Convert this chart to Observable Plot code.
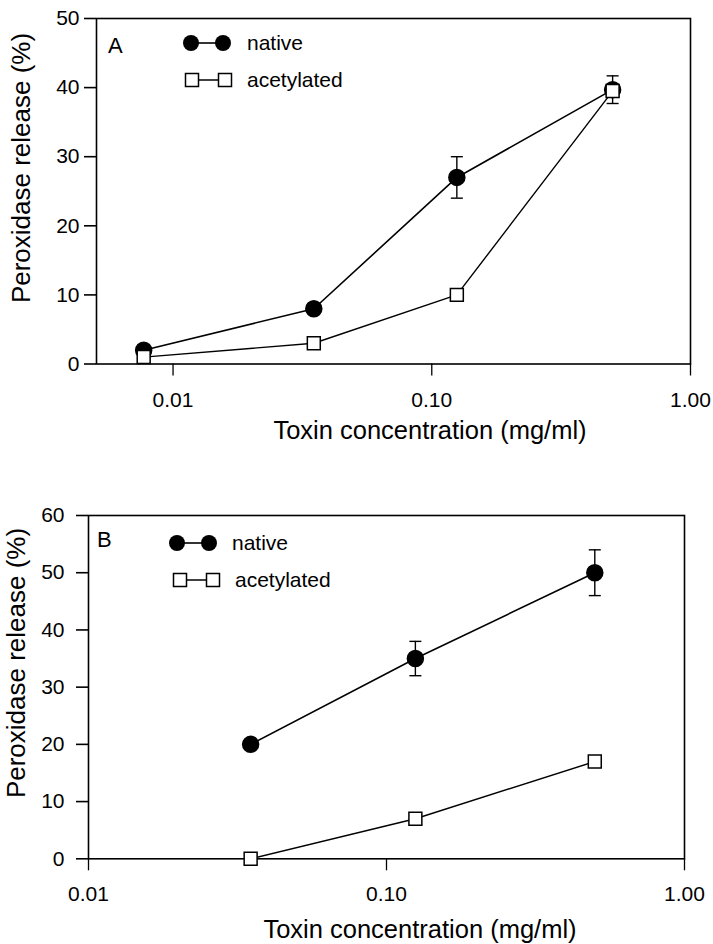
<!DOCTYPE html>
<html>
<head>
<meta charset="utf-8">
<script src="https://cdn.jsdelivr.net/npm/d3@7"></script>
<script src="https://cdn.jsdelivr.net/npm/@observablehq/plot@0.6"></script>
<style>
  html, body { margin: 0; padding: 0; background: #fff; }
  #wrap { width: 713px; height: 944px; }
  svg { display: block; }
</style>
</head>
<body>
<div id="wrap"></div>
<script>
// ---- data ----
const seriesNames = ["native", "acetylated"];

const concA = [0.0077, 0.035, 0.125, 0.5];
const nativeA = [2, 8, 27, 39.7];
const nativeAErr = [0, 0, 3, 2];
const acetA = [1, 3, 10, 39.5];

const concB = [0.035, 0.125, 0.5];
const nativeB = [20, 35, 50];
const nativeBErr = [0, 3, 4];
const acetB = [0, 7, 17];

const xTicks = [0.01, 0.1, 1];
const xTickLabels = ["0.01", "0.10", "1.00"];
const yTicksA = [0, 10, 20, 30, 40, 50];
const yTicksB = [0, 10, 20, 30, 40, 50, 60];

const xTitle = "Toxin concentration (mg/ml)";
const yTitle = "Peroxidase release (%)";

const FONT = "'Liberation Sans', Arial, Helvetica, sans-serif";

// error-bar cap symbol (horizontal segment)
const capSymbol = {
  draw(ctx, size) {
    const w = Math.sqrt(size / Math.PI);
    ctx.moveTo(-w, 0);
    ctx.lineTo(w, 0);
  }
};

function rows(xs, ys, errs) {
  return xs.map((x, i) => ({x, y: ys[i], err: errs ? errs[i] : 0}));
}

function panel(cfg) {
  const nat = rows(cfg.conc, cfg.native, cfg.nativeErr);
  const ace = rows(cfg.conc, cfg.acet);
  const withErr = nat.filter(d => d.err > 0);
  const svg = Plot.plot({
    width: 713,
    height: cfg.height,
    marginLeft: cfg.ml,
    marginRight: cfg.mr,
    marginTop: cfg.mt,
    marginBottom: cfg.mb,
    style: {fontFamily: FONT, fontSize: "21px", color: "black", background: "white", overflow: "visible"},
    x: {type: "log", domain: cfg.xDomain},
    y: {domain: cfg.yDomain},
    marks: [
      Plot.frame({stroke: "black", strokeWidth: 1.6}),
      Plot.axisX({ticks: xTicks, tickFormat: (d) => xTickLabels[xTicks.indexOf(d)], tickSize: 12, tickPadding: cfg.xPad, strokeWidth: 1.3, label: null}),
      Plot.axisY({ticks: cfg.yTicks, tickSize: 12, tickPadding: cfg.yPad, strokeWidth: 1.6, label: null}),
      Plot.ruleX(withErr, {x: "x", y1: d => d.y - d.err, y2: d => d.y + d.err, stroke: "black", strokeWidth: 1.4}),
      Plot.dot(withErr, {x: "x", y: d => d.y + d.err, symbol: capSymbol, r: 6, stroke: "black", strokeWidth: 1.4, fill: "none"}),
      Plot.dot(withErr, {x: "x", y: d => d.y - d.err, symbol: capSymbol, r: 6, stroke: "black", strokeWidth: 1.4, fill: "none"}),
      Plot.line(nat, {x: "x", y: "y", stroke: "black", strokeWidth: 1.6}),
      Plot.line(ace, {x: "x", y: "y", stroke: "black", strokeWidth: 1.4}),
      Plot.dot(nat, {x: "x", y: "y", r: 8, fill: "black", stroke: "black"}),
      Plot.dot(ace, {x: "x", y: "y", symbol: "square", r: 7.3, fill: "white", stroke: "black", strokeWidth: 1.5})
    ]
  });
  const s = d3.select(svg);
  // panel letter
  s.append("text").attr("x", cfg.letter[0]).attr("y", cfg.letter[1]).attr("text-anchor", "start")
    .attr("font-size", 22).attr("font-family", FONT).text(cfg.letterText);
  // legend
  const lg = s.append("g").attr("font-family", FONT).attr("font-size", 21).attr("text-anchor", "start");
  const L = cfg.legend;
  lg.append("line").attr("x1", L.c1).attr("x2", L.c2).attr("y1", L.y1).attr("y2", L.y1)
    .attr("stroke", "black").attr("stroke-width", 1.6);
  [L.c1, L.c2].forEach(cx => lg.append("circle").attr("cx", cx).attr("cy", L.y1).attr("r", 8).attr("fill", "black"));
  lg.append("text").attr("x", L.t1).attr("y", L.y1).attr("dy", "0.35em").text(seriesNames[0]);
  lg.append("line").attr("x1", L.s1).attr("x2", L.s2).attr("y1", L.y2).attr("y2", L.y2)
    .attr("stroke", "black").attr("stroke-width", 1.4);
  [L.s1, L.s2].forEach(cx => lg.append("rect").attr("x", cx - 6.5).attr("y", L.y2 - 6.5)
    .attr("width", 13).attr("height", 13).attr("fill", "white").attr("stroke", "black").attr("stroke-width", 1.5));
  lg.append("text").attr("x", L.t2).attr("y", L.y2).attr("dy", "0.35em").text(seriesNames[1]);
  // axis titles
  s.append("text").attr("x", cfg.xt[0]).attr("y", cfg.xt[1]).attr("text-anchor", "middle")
    .attr("font-size", 25.5).attr("font-family", FONT).text(xTitle);
  s.append("text").attr("transform", `translate(${cfg.yt[0]},${cfg.yt[1]}) rotate(-90)`)
    .attr("text-anchor", "middle").attr("font-size", 26).attr("font-family", FONT).text(yTitle);
  return svg;
}

const wrap = document.getElementById("wrap");

wrap.appendChild(panel({
  height: 470, ml: 96, mr: 23, mt: 18, mb: 106.5,
  xDomain: [0.00506, 1], yDomain: [0, 50], yTicks: yTicksA,
  xPad: 16, yPad: 5,
  conc: concA, native: nativeA, nativeErr: nativeAErr, acet: acetA,
  letter: [108, 53], letterText: "A",
  legend: {c1: 191, c2: 223, y1: 43, t1: 247, s1: 192, s2: 225, y2: 80, t2: 247},
  xt: [430, 439], yt: [30, 168]
}));

wrap.appendChild(panel({
  height: 474, ml: 88, mr: 29, mt: 45, mb: 85.7,
  xDomain: [0.01, 1], yDomain: [0, 60], yTicks: yTicksB,
  xPad: 15, yPad: 12,
  conc: concB, native: nativeB, nativeErr: nativeBErr, acet: acetB,
  letter: [97, 77], letterText: "B",
  legend: {c1: 177, c2: 209, y1: 73, t1: 232, s1: 180, s2: 213, y2: 110, t2: 235},
  xt: [420, 468], yt: [25, 193]
}));
</script>
</body>
</html>
